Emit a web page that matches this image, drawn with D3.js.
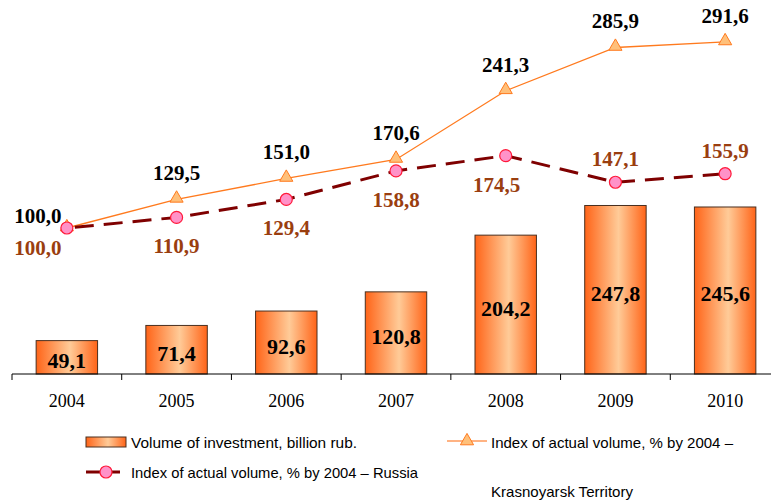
<!DOCTYPE html>
<html><head><meta charset="utf-8">
<script src="https://cdn.jsdelivr.net/npm/d3@7"></script>
<style>body{margin:0;background:#fff}svg{display:block}</style>
</head><body>
<svg id="chart" width="771" height="502"></svg>
<script>
const years = ["2004","2005","2006","2007","2008","2009","2010"];
const investment = [49.1, 71.4, 92.6, 120.8, 204.2, 247.8, 245.6];
const indexKrasnoyarsk = [100.0, 129.5, 151.0, 170.6, 241.3, 285.9, 291.6];
const indexRussia = [100.0, 110.9, 129.4, 158.8, 174.5, 147.1, 155.9];
// label placement for Russia series: 1 = below point, -1 = above point
const russiaLabelSide = [1, 1, 1, 1, 1, -1, -1];
const legendLabels = ["Volume of investment, billion rub.",
  "Index of actual volume, % by 2004 \u2013",
  "Krasnoyarsk Territory",
  "Index of actual volume, % by 2004 \u2013 Russia"];

const fmt = v => v.toFixed(1).replace(".", ",");
const svg = d3.select("#chart");
const serif = "'Liberation Serif','Times New Roman',serif";
const sans = "'Liberation Sans',Arial,sans-serif";

const x = d3.scaleBand().domain(years).range([12, 780]).paddingInner(0.44).paddingOuter(0.22);
const step = x.step();
const cx = d => x(d) + x.bandwidth() / 2;
const yBar = d3.scaleLinear().domain([0, 300]).range([374, 170]);
const yIdx = d3.scaleLinear().domain([0, 300]).range([325.1, 33.8]);

const defs = svg.append("defs");
const grad = defs.append("linearGradient").attr("id", "barGrad").attr("x1", "0").attr("x2", "1").attr("y1", "0").attr("y2", "0");
grad.append("stop").attr("offset", "0%").attr("stop-color", "#ff6418");
grad.append("stop").attr("offset", "55%").attr("stop-color", "#ffcb98");
grad.append("stop").attr("offset", "100%").attr("stop-color", "#ff6418");

// bars
svg.append("g").selectAll("rect").data(years).join("rect")
  .attr("x", d => x(d)).attr("width", x.bandwidth())
  .attr("y", (d, i) => yBar(investment[i]))
  .attr("height", (d, i) => yBar(0) - yBar(investment[i]))
  .attr("fill", "url(#barGrad)").attr("stroke", "#4a3020").attr("stroke-width", 1);

svg.append("g").selectAll("text").data(years).join("text")
  .attr("x", cx).attr("y", (d, i) => (yBar(investment[i]) + yBar(0)) / 2 + 11)
  .attr("text-anchor", "middle").attr("font-family", serif).attr("font-weight", "bold")
  .attr("font-size", 22).attr("fill", "#000").text((d, i) => fmt(investment[i]));

// axis
const axis = svg.append("g").attr("transform", "translate(0,374)");
axis.append("line").attr("x1", 12).attr("x2", 780).attr("stroke", "#000");
const bounds = years.map(d => x(d) - x.paddingInner() * step / 2).concat([780]);
axis.selectAll("line.tk").data(bounds).join("line").attr("class", "tk")
  .attr("x1", d => d).attr("x2", d => d).attr("y1", 0).attr("y2", 6).attr("stroke", "#000");
axis.selectAll("text").data(years).join("text")
  .attr("x", cx).attr("y", 33).attr("text-anchor", "middle")
  .attr("font-family", serif).attr("font-size", 18).attr("fill", "#000").text(d => d);

// Krasnoyarsk line
const lineK = d3.line().x((d, i) => cx(years[i])).y(d => yIdx(d));
svg.append("path").datum(indexKrasnoyarsk).attr("d", lineK)
  .attr("fill", "none").attr("stroke", "#ff7a1e").attr("stroke-width", 1.3);
const tri = d3.symbol().type(d3.symbolTriangle).size(75);
svg.append("g").selectAll("path").data(indexKrasnoyarsk).join("path")
  .attr("d", tri).attr("transform", (d, i) => `translate(${cx(years[i])},${yIdx(d) - 1})`)
  .attr("fill", "#ffc07a").attr("stroke", "#ff7a1e").attr("stroke-width", 1);

// Russia line
const lineR = d3.line().x((d, i) => cx(years[i])).y(d => yIdx(d));
svg.append("path").datum(indexRussia).attr("d", lineR)
  .attr("fill", "none").attr("stroke", "#7f0000").attr("stroke-width", 3)
  .attr("stroke-dasharray", "19,10").attr("stroke-dashoffset", -8);
svg.append("g").selectAll("circle").data(indexRussia).join("circle")
  .attr("cx", (d, i) => cx(years[i])).attr("cy", d => yIdx(d)).attr("r", 6)
  .attr("fill", "#ff92c8").attr("stroke", "#ff1a3a").attr("stroke-width", 1.2);

// Krasnoyarsk labels
svg.append("g").selectAll("text").data(indexKrasnoyarsk).join("text")
  .attr("x", (d, i) => i === 0 ? cx(years[i]) - 29 : cx(years[i]))
  .attr("y", (d, i) => i === 0 ? yIdx(d) - 5 : yIdx(d) - 19)
  .attr("text-anchor", "middle").attr("font-family", serif).attr("font-weight", "bold")
  .attr("font-size", 21).attr("fill", "#000").text(d => fmt(d));

// Russia labels
svg.append("g").selectAll("text").data(indexRussia).join("text")
  .attr("x", (d, i) => i === 0 ? cx(years[i]) - 29 : cx(years[i]) + (i === 4 ? -9 : 0))
  .attr("y", (d, i) => russiaLabelSide[i] > 0 ? yIdx(d) + (i === 0 ? 27 : 36) : yIdx(d) - 16)
  .attr("text-anchor", "middle").attr("font-family", serif).attr("font-weight", "bold")
  .attr("font-size", 21).attr("fill", "#9a3e0f").text(d => fmt(d));

// legend
const lg = svg.append("g");
const legText = (xp, yp, t, len) => lg.append("text").attr("x", xp).attr("y", yp)
  .attr("font-family", sans).attr("font-size", 14.5).attr("fill", "#000")
  .attr("textLength", len).attr("lengthAdjust", "spacingAndGlyphs").text(t);

lg.append("rect").attr("x", 86).attr("y", 437).attr("width", 40).attr("height", 10)
  .attr("fill", "url(#barGrad)").attr("stroke", "#4a3020");
legText(131, 448, legendLabels[0], 226);

lg.append("line").attr("x1", 447).attr("x2", 487).attr("y1", 441).attr("y2", 441)
  .attr("stroke", "#ff9a5a").attr("stroke-width", 1.5);
lg.append("path").attr("d", tri).attr("transform", "translate(467,441)")
  .attr("fill", "#ffc07a").attr("stroke", "#ff7a1e");
legText(491, 448, legendLabels[1], 242);
legText(491, 497, legendLabels[2], 142);

lg.append("line").attr("x1", 86).attr("x2", 126).attr("y1", 472).attr("y2", 472)
  .attr("stroke", "#7f0000").attr("stroke-width", 3).attr("stroke-dasharray", "14,6");
lg.append("circle").attr("cx", 106).attr("cy", 472).attr("r", 6)
  .attr("fill", "#ff92c8").attr("stroke", "#ff1a3a").attr("stroke-width", 1.2);
legText(131, 478, legendLabels[3], 287);
</script>
</body></html>
